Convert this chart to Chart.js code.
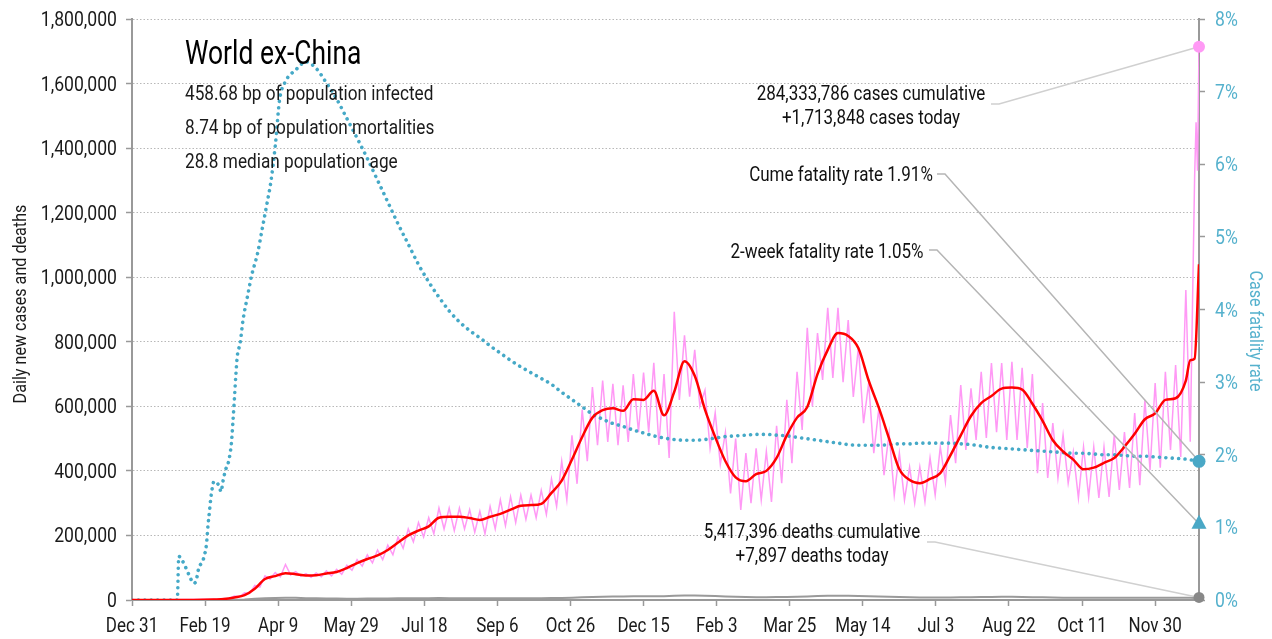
<!DOCTYPE html>
<html>
<head>
<meta charset="utf-8">
<title>World ex-China</title>
<script src="https://cdn.jsdelivr.net/npm/chart.js@4.4.0/dist/chart.umd.min.js"></script>
<style>
  html, body { margin: 0; padding: 0; background: #fff; }
  #wrap { width: 1272px; height: 639px; position: relative; }
</style>
</head>
<body>
<div id="wrap"><canvas id="chart"></canvas></div>
<script>
// World ex-China: daily cases, 7-day average, deaths and case fatality rate.
// x values are days since Dec 31, 2019.

const FONT = "Roboto, 'Liberation Sans', sans-serif";
const SQUEEZE = 0.85; // the original uses a condensed face
const MONTHS = ['Jan', 'Feb', 'Mar', 'Apr', 'May', 'Jun', 'Jul', 'Aug', 'Sep', 'Oct', 'Nov', 'Dec'];
const START = Date.UTC(2019, 11, 31);
const LAST_DAY = 730;

const infoLines = [
    '458.68 bp of population infected',
    '8.74 bp of population mortalities',
    '28.8 median population age',
];

// weekly sampling grid, day 0 .. 721
const weekDays = Array.from({ length: 104 }, (_, i) => i * 7);

// 7-day average of new cases (red)
const avgCases = [
    0, 0, 0, 0, 0, 0, 0, 500, 1500, 3000,
    8000, 15000, 35000, 65000, 74000, 83000, 80000, 76000, 77000, 82000,
    87000, 99000, 114000, 127000, 138000, 155000, 178000, 200000, 215000, 228000,
    255000, 258000, 258000, 254000, 248000, 258000, 267000, 280000, 292000, 294000,
    298000, 332000, 370000, 435000, 505000, 565000, 588000, 594000, 586000, 622000,
    620000, 648000, 572000, 645000, 740000, 695000, 590000, 505000, 430000, 380000,
    368000, 390000, 400000, 440000, 510000, 565000, 598000, 700000, 775000, 827000,
    818000, 780000, 680000, 595000, 500000, 405000, 372000, 362000, 375000, 393000,
    449000, 510000, 570000, 610000, 632000, 655000, 658000, 652000, 608000, 555000,
    495000, 460000, 435000, 405000, 410000, 425000, 440000, 475000, 515000, 560000,
    578000, 620000, 625000, 680000,
];
const avgTailDays = [724, 727, 730];
const avgTailCases = [743000, 748000, 1040000];

// daily new deaths (grey)
const dailyDeaths = [
    0, 0, 0, 0, 0, 0, 0, 0, 20, 60,
    400, 1500, 3500, 5500, 6500, 7000, 6800, 5800, 5300, 4800,
    4500, 4200, 4200, 4500, 4700, 5000, 5200, 5400, 5600, 5700,
    5900, 5800, 5700, 5500, 5400, 5300, 5500, 5200, 5400, 5600,
    5700, 5900, 6400, 7200, 8200, 9300, 10200, 10800, 11100, 11700,
    11800, 11500, 11600, 12800, 13900, 14100, 13400, 12500, 11200, 10000,
    9200, 8800, 8800, 9000, 9500, 10100, 11000, 12200, 13000, 13500,
    13300, 12600, 11700, 10800, 10100, 9300, 8400, 7900, 7800, 8000,
    8100, 8400, 8600, 9000, 9500, 9700, 9700, 9400, 8800, 8300,
    7600, 7100, 6800, 6700, 6800, 6900, 7100, 7000, 6900, 6900,
    7000, 7000, 6800, 6600,
];
const deathTailDays = [724, 727, 730];
const deathTail = [6800, 6300, 7897];

// daily new cases (pink), peak / trough every 3.5 days from day 56 to day 721
const dailyStart = 56;
const dailyStep = 3.5;
const dailyCases = [
    2000, 2000, 5000, 4000, 12000, 10000, 22000, 20000, 45000, 40000, 75000, 65000, 85000, 72000,
    110000, 78000, 88000, 74000, 82000, 70000, 84000, 72000, 90000, 75000, 95000, 80000, 108000, 92000,
    125000, 105000, 140000, 115000, 155000, 125000, 170000, 140000, 195000, 160000, 220000, 180000, 240000, 195000,
    255000, 205000, 285000, 220000, 285000, 215000, 285000, 220000, 280000, 210000, 275000, 205000, 290000, 220000,
    310000, 230000, 320000, 240000, 325000, 250000, 325000, 255000, 340000, 265000, 375000, 290000, 430000, 310000,
    510000, 360000, 590000, 430000, 660000, 480000, 680000, 490000, 670000, 480000, 665000, 490000, 700000, 520000,
    705000, 520000, 735000, 480000, 700000, 440000, 893000, 620000, 820000, 630000, 775000, 600000, 650000, 470000,
    580000, 420000, 520000, 330000, 500000, 279000, 455000, 300000, 470000, 310000, 460000, 304000, 540000, 362000,
    620000, 424000, 707000, 527000, 843000, 600000, 827000, 682000, 905000, 688000, 905000, 675000, 867000, 629000,
    784000, 548000, 672000, 455000, 595000, 387000, 517000, 325000, 455000, 310000, 412000, 300000, 412000, 304000,
    440000, 325000, 474000, 366000, 573000, 424000, 666000, 465000, 656000, 496000, 707000, 502000, 734000, 520000,
    734000, 496000, 738000, 496000, 719000, 471000, 700000, 393000, 610000, 378000, 548000, 378000, 511000, 362000,
    459000, 316000, 474000, 319000, 474000, 316000, 474000, 319000, 511000, 341000, 520000, 347000, 579000, 356000,
    620000, 403000, 672000, 410000, 707000, 465000, 728000, 443000,
    960000,
];
const dailyTailDays = [724, 727, 728, 729, 730];
const dailyTail = [490000, 1310000, 1480000, 1330000, 1713848];

// case fatality rate, % (blue dots)
const cfrEarlyDays = [0, 7, 14, 21, 28, 31, 32, 33, 34, 36, 38, 40, 42, 44, 45, 46,
    48, 50, 51, 52, 53, 54, 55, 56, 58, 60, 61, 62, 64, 66, 68, 69, 70, 71, 72, 74,
    76, 79, 82, 86, 89, 92, 95, 98, 101];
const cfrEarly = [0, 0, 0, 0, 0, 0, 0.6, 0.59, 0.56, 0.48, 0.39, 0.30, 0.23, 0.27, 0.38, 0.46,
    0.52, 0.65, 0.78, 1.03, 1.22, 1.42, 1.55, 1.63, 1.62, 1.54, 1.49, 1.61, 1.79, 1.90, 2.16, 2.44, 2.75, 3.08, 3.35, 3.54,
    3.86, 4.18, 4.48, 4.78, 5.10, 5.42, 5.76, 6.25, 6.89];
// weekly from day 105
const cfrWeekly = [
    7.14, 7.30, 7.41, 7.32, 7.12, 6.90, 6.63, 6.36, 6.08, 5.78,
    5.48, 5.18, 4.90, 4.62, 4.38, 4.17, 3.98, 3.83, 3.71, 3.61,
    3.50, 3.40, 3.30, 3.21, 3.13, 3.05, 2.97, 2.86, 2.76, 2.66,
    2.56, 2.49, 2.43, 2.39, 2.34, 2.30, 2.26, 2.23, 2.21, 2.20,
    2.20, 2.21, 2.23, 2.25, 2.26, 2.27, 2.28, 2.28, 2.27, 2.26,
    2.24, 2.22, 2.20, 2.18, 2.16, 2.14, 2.13, 2.13, 2.13, 2.14,
    2.15, 2.15, 2.16, 2.16, 2.16, 2.16, 2.15, 2.14, 2.12, 2.10,
    2.09, 2.08, 2.07, 2.06, 2.05, 2.04, 2.03, 2.02, 2.02, 2.01,
    2.00, 2.00, 1.99, 1.98, 1.98, 1.97, 1.96, 1.95, 1.94,
];
const cfrTailDays = [724, 727, 730];
const cfrTail = [1.93, 1.92, 1.91];

// latest values shown by the end markers
const casesCumulative = 284333786;
const casesToday = 1713848;
const deathsCumulative = 5417396;
const deathsToday = 7897;
const cumeFatality = 1.91;
const twoWeekFatality = 1.05;

// ---- build point lists ----
function zip(days, vals) {
    return days.map((d, i) => ({ x: d, y: vals[i] }));
}

const dailyPoints = [{ x: 0, y: 0 }]
    .concat(dailyCases.map((v, i) => ({ x: dailyStart + i * dailyStep, y: v })))
    .concat(zip(dailyTailDays, dailyTail));
const avgPoints = zip(weekDays, avgCases).concat(zip(avgTailDays, avgTailCases));
const deathPoints = zip(weekDays, dailyDeaths).concat(zip(deathTailDays, deathTail));
const cfrPoints = zip(cfrEarlyDays, cfrEarly)
    .concat(cfrWeekly.map((v, i) => ({ x: 105 + i * 7, y: v })))
    .concat(zip(cfrTailDays, cfrTail));

function dayLabel(d) {
    const dt = new Date(START + d * 86400000);
    return MONTHS[dt.getUTCMonth()] + ' ' + dt.getUTCDate();
}

const fmt = n => n.toLocaleString('en-US');

// condensed text: squeeze horizontally along the writing direction
function condText(ctx, text, x, y, size, color, align, rot, sx) {
    ctx.save();
    ctx.translate(x, y);
    if (rot) ctx.rotate(rot);
    ctx.scale(sx || SQUEEZE, 1);
    ctx.font = `${size}px ${FONT}`;
    ctx.fillStyle = color;
    ctx.textAlign = align || 'left';
    ctx.textBaseline = 'alphabetic';
    ctx.fillText(text, 0, 0);
    ctx.restore();
}

const overlay = {
    id: 'overlay',
    afterDraw(chart) {
        const { ctx } = chart;
        const { x, y, y1 } = chart.scales;
        ctx.save();

        // tick labels
        x.ticks.forEach(t => {
            condText(ctx, dayLabel(t.value), x.getPixelForValue(t.value), 632, 20, '#1a1a1a', 'center');
        });
        y.ticks.forEach(t => {
            condText(ctx, fmt(t.value), 117, y.getPixelForValue(t.value) + 7, 20, '#1a1a1a', 'right', 0, 0.88);
        });
        y1.ticks.forEach(t => {
            condText(ctx, t.value + '%', 1215, y1.getPixelForValue(t.value) + 7, 20, '#55b1cd', 'left', 0, 0.88);
        });

        // title block
        condText(ctx, 'World ex-China', 185, 64, 33, '#000', 'left', 0, 0.8);
        infoLines.forEach((t, i) => condText(ctx, t, 185, 100 + i * 34, 20, '#1a1a1a', 'left', 0, 0.86));

        // axis titles
        condText(ctx, 'Daily new cases and deaths', 26, 304, 19, '#1a1a1a', 'center', -Math.PI / 2);
        condText(ctx, 'Case fatality rate', 1250, 331, 19, '#55b1cd', 'center', Math.PI / 2);

        // end markers
        const ex = x.getPixelForValue(LAST_DAY);
        const pCases = y.getPixelForValue(casesToday);
        const pDeaths = y.getPixelForValue(deathsToday);
        const pCume = y1.getPixelForValue(cumeFatality);
        const pTwo = y1.getPixelForValue(twoWeekFatality);

        const notes = [
            { lines: [fmt(casesCumulative) + ' cases cumulative', '+' + fmt(casesToday) + ' cases today'],
              cx: 871, base: 100, from: [991, 104], to: pCases, color: '#d0d0d0' },
            { lines: ['Cume fatality rate ' + cumeFatality.toFixed(2) + '%'],
              cx: 841, base: 181, from: [937, 174], to: pCume, color: '#b5b5b5' },
            { lines: ['2-week fatality rate ' + twoWeekFatality.toFixed(2) + '%'],
              cx: 827, base: 258, from: [929, 250], to: pTwo, color: '#b5b5b5' },
            { lines: [fmt(deathsCumulative) + ' deaths cumulative', '+' + fmt(deathsToday) + ' deaths today'],
              cx: 812, base: 538, from: [927, 542], to: pDeaths, color: '#d0d0d0' },
        ];

        notes.forEach(n => {
            n.lines.forEach((t, i) => condText(ctx, t, n.cx, n.base + i * 24, 20, '#111', 'center'));
            ctx.strokeStyle = n.color;
            ctx.lineWidth = 1.5;
            ctx.beginPath();
            ctx.moveTo(n.from[0], n.from[1]);
            ctx.lineTo(n.from[0] + 8, n.from[1]);
            ctx.lineTo(ex, n.to);
            ctx.stroke();
        });

        function dot(cy, r, color) {
            ctx.fillStyle = color;
            ctx.beginPath();
            ctx.arc(ex, cy, r, 0, Math.PI * 2);
            ctx.fill();
        }
        dot(pCases, 6, '#ff99f5');
        dot(pCume, 6.5, '#4aa8c6');
        dot(pDeaths, 5.5, '#888');
        ctx.fillStyle = '#4aa8c6';
        ctx.beginPath();
        ctx.moveTo(ex, pTwo - 9);
        ctx.lineTo(ex + 7.5, pTwo + 5);
        ctx.lineTo(ex - 7.5, pTwo + 5);
        ctx.closePath();
        ctx.fill();

        ctx.restore();
    },
};

new Chart(document.getElementById('chart'), {
    type: 'line',
    data: {
        datasets: [
            {
                label: 'Daily cases',
                data: dailyPoints,
                borderColor: '#ff99f5',
                borderWidth: 1.5,
                yAxisID: 'y',
                order: 4,
            },
            {
                label: 'Daily deaths',
                data: deathPoints,
                borderColor: '#9a9a9a',
                borderWidth: 2,
                yAxisID: 'y',
                order: 3,
            },
            {
                label: 'Case fatality rate',
                data: cfrPoints,
                borderColor: '#45a9c7',
                borderWidth: 3.6,
                borderDash: [0.01, 6.4],
                borderCapStyle: 'round',
                cubicInterpolationMode: 'monotone',
                yAxisID: 'y1',
                order: 2,
            },
            {
                label: '7-day average cases',
                data: avgPoints,
                borderColor: '#ff0000',
                borderWidth: 2.5,
                cubicInterpolationMode: 'monotone',
                yAxisID: 'y',
                order: 1,
            },
        ],
    },
    options: {
        responsive: true,
        maintainAspectRatio: false,
        animation: false,
        layout: { padding: { top: 19, left: 0, right: 0, bottom: 0 } },
        elements: {
            point: { radius: 0, hoverRadius: 0 },
            line: { tension: 0, fill: false },
        },
        plugins: {
            legend: { display: false },
            tooltip: { enabled: false },
        },
        scales: {
            x: {
                type: 'linear',
                min: 0,
                max: LAST_DAY,
                afterFit: s => { s.height = 39; },
                ticks: { display: false, stepSize: 50, includeBounds: false, autoSkip: false, maxRotation: 0 },
                grid: { drawOnChartArea: false, tickLength: 6, tickColor: '#999', tickWidth: 1.5 },
                border: { color: '#999', width: 2 },
            },
            y: {
                position: 'left',
                min: 0,
                max: 1800000,
                afterFit: s => { s.width = 132; },
                ticks: { display: false, stepSize: 200000 },
                grid: { color: '#b8b8b8', lineWidth: 1, tickLength: 6, tickColor: '#999', tickWidth: 1.5 },
                border: { color: '#999', width: 2, dash: [1.5, 2] },
            },
            y1: {
                position: 'right',
                min: 0,
                max: 8,
                afterFit: s => { s.width = 73; },
                ticks: { display: false, stepSize: 1 },
                grid: { drawOnChartArea: false, tickLength: 6, tickColor: '#999', tickWidth: 1.5 },
                border: { color: '#999', width: 2 },
            },
        },
    },
    plugins: [overlay],
});
</script>
</body>
</html>
